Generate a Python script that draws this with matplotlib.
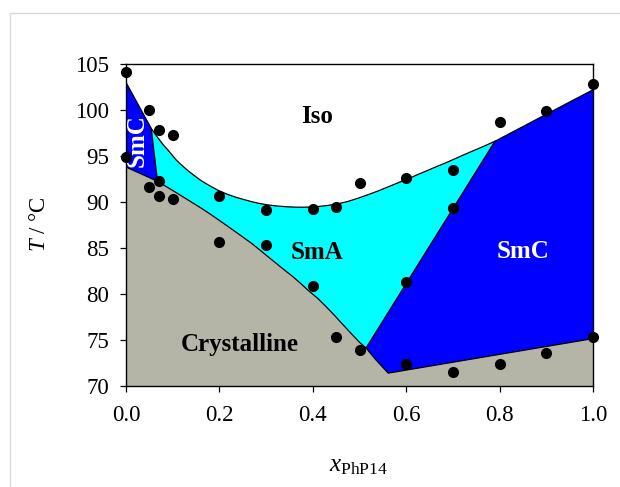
import matplotlib
matplotlib.use("Agg")
import matplotlib.pyplot as plt
from matplotlib.patches import Rectangle

plt.rcParams['font.family'] = ['Liberation Serif', 'DejaVu Serif']
plt.rcParams['mathtext.fontset'] = 'custom'
plt.rcParams['mathtext.rm'] = 'Liberation Serif'
plt.rcParams['mathtext.it'] = 'Liberation Serif:italic'

# measured transition temperatures (mole fraction of PhP14, T in degC)
x_pts = [0.0, 0.0, 0.05, 0.05, 0.07, 0.07, 0.07, 0.1, 0.1,
         0.2, 0.2, 0.3, 0.3, 0.4, 0.4, 0.45, 0.45, 0.5, 0.5,
         0.6, 0.6, 0.6, 0.7, 0.7, 0.7, 0.8, 0.8, 0.9, 0.9, 1.0, 1.0]
T_pts = [104.1, 94.9, 100.0, 91.6, 97.8, 92.3, 90.7, 97.3, 90.3,
         90.7, 85.6, 89.1, 85.3, 89.2, 80.9, 89.5, 75.3, 92.1, 73.9,
         92.6, 81.3, 72.4, 93.5, 89.3, 71.5, 98.7, 72.4, 99.9, 73.6, 102.8, 75.3]

# clearing line (Iso boundary)
iso_x = [0.0, 0.054, 0.063, 0.071, 0.08, 0.089, 0.098, 0.107, 0.116, 0.125,
         0.134, 0.143, 0.16, 0.178, 0.196, 0.214, 0.232, 0.25, 0.268, 0.285,
         0.302, 0.32, 0.34, 0.357, 0.374, 0.39, 0.41, 0.428, 0.445, 0.46,
         0.475, 0.487, 0.503, 0.52, 0.54, 0.558, 0.577, 0.595, 0.613, 0.63,
         0.648, 0.665, 0.683, 0.7, 0.722, 0.745, 0.768, 0.79, 1.0]
iso_T = [103.0, 98.0, 97.35, 96.8, 96.2, 95.7, 95.15, 94.6, 94.15, 93.75,
         93.35, 93.0, 92.35, 91.8, 91.3, 90.9, 90.57, 90.3, 90.05, 89.85,
         89.7, 89.58, 89.5, 89.45, 89.43, 89.45, 89.5, 89.6, 89.73, 89.88,
         90.06, 90.25, 90.52, 90.83, 91.2, 91.58, 91.97, 92.35, 92.72, 93.1,
         93.48, 93.85, 94.22, 94.6, 95.1, 95.6, 96.1, 96.6, 102.2]

# melting line (Crystalline boundary)
cr_x = [0.0, 0.0675, 0.086, 0.105, 0.124, 0.143, 0.162, 0.18, 0.197, 0.214,
        0.232, 0.25, 0.268, 0.285, 0.302, 0.32, 0.338, 0.357, 0.374, 0.39,
        0.41, 0.428, 0.446, 0.464, 0.482, 0.5, 0.514, 0.535, 0.5615, 1.0]
cr_T = [93.8, 92.25, 91.68, 91.1, 90.5, 89.9, 89.3, 88.7, 88.1, 87.5,
        86.85, 86.2, 85.54, 84.85, 84.14, 83.4, 82.66, 81.9, 81.15, 80.4,
        79.55, 78.65, 77.7, 76.7, 75.72, 74.75, 74.13, 72.85, 71.4, 75.15]

x_ticks = [0.0, 0.2, 0.4, 0.6, 0.8, 1.0]
T_ticks = [70, 75, 80, 85, 90, 95, 100, 105]

# indices where the SmC / SmA boundaries meet the two lines
i_iso_l, i_iso_r = 1, len(iso_x) - 2
i_cr_l, i_cr_r = 1, cr_x.index(0.514)

fig = plt.figure(figsize=(6.2, 4.87), dpi=100)
fig.patches.append(Rectangle((10 / 620, -0.1), 1.2, 1 - 13 / 487 + 0.1,
                             transform=fig.transFigure, fill=False,
                             edgecolor='#d8d8d8', linewidth=1.0))
ax = fig.add_axes([126 / 620, 1 - 386 / 487, 467 / 620, 322 / 487])

gray = '#b4b4a7'
blue = '#0000ff'
cyan = '#00ffff'

# crystalline region
poly = [(x_ticks[0], T_ticks[0])] + list(zip(cr_x, cr_T)) + [(x_ticks[-1], T_ticks[0])]
ax.fill(*zip(*poly), color=gray, lw=0)

# SmC at the pure-component end
poly = list(zip(iso_x[:i_iso_l + 1], iso_T[:i_iso_l + 1])) + \
    list(zip(cr_x[:i_cr_l + 1], cr_T[:i_cr_l + 1]))[::-1]
ax.fill(*zip(*poly), color=blue, lw=0)

# SmA
poly = list(zip(iso_x[i_iso_l:i_iso_r + 1], iso_T[i_iso_l:i_iso_r + 1])) + \
    list(zip(cr_x[i_cr_l:i_cr_r + 1], cr_T[i_cr_l:i_cr_r + 1]))[::-1]
ax.fill(*zip(*poly), color=cyan, lw=0)

# SmC on the PhP14 rich side
poly = list(zip(iso_x[i_iso_r:], iso_T[i_iso_r:])) + \
    list(zip(cr_x[i_cr_r:], cr_T[i_cr_r:]))[::-1]
ax.fill(*zip(*poly), color=blue, lw=0)

# phase boundaries
lw = 0.9
ax.plot(iso_x, iso_T, color='black', lw=lw)
ax.plot(cr_x, cr_T, color='black', lw=lw)
ax.plot([iso_x[i_iso_l], cr_x[i_cr_l]], [iso_T[i_iso_l], cr_T[i_cr_l]], color='black', lw=lw)
ax.plot([iso_x[i_iso_r], cr_x[i_cr_r]], [iso_T[i_iso_r], cr_T[i_cr_r]], color='black', lw=lw)

ax.plot(x_pts, T_pts, 'o', color='black', markersize=7, clip_on=False, zorder=5)

# phase labels
ax.text(0.41, 98.64, 'Iso', fontsize=18, fontweight='bold', ha='center', va='baseline')
ax.text(0.41, 83.84, 'SmA', fontsize=18, fontweight='bold', ha='center', va='baseline')
ax.text(0.8505, 83.9, 'SmC', fontsize=18, fontweight='bold', color='white',
        ha='center', va='baseline')
ax.text(0.244, 73.83, 'Crystalline', fontsize=18, fontweight='bold', ha='center',
        va='baseline')
ax.text(0.024, 96.66, 'SmC', fontsize=18, fontweight='bold', color='white',
        rotation=90, ha='center', va='center')

ax.set_xlim(0, 1)
ax.set_ylim(70, 105)
ax.set_xticks(x_ticks)
ax.set_xticklabels(['%.1f' % v for v in x_ticks])
ax.set_yticks(T_ticks)
ax.tick_params(axis='both', direction='out', length=4, width=0.9, labelsize=16.5)
ax.tick_params(axis='y', pad=8)
ax.tick_params(axis='x', pad=10)
for s in ax.spines.values():
    s.set_linewidth(1.0)

ax.set_ylabel(r'$\mathit{T}$ / °C', fontsize=16.5, va='center')
ax.yaxis.set_label_coords(-0.186, 0.503)
ax.set_xlabel(r'$\mathit{x}_{\mathrm{PhP14}}$', fontsize=18)
ax.xaxis.set_label_coords(0.4985, -0.215)

fig.savefig('out.png', dpi=100)
